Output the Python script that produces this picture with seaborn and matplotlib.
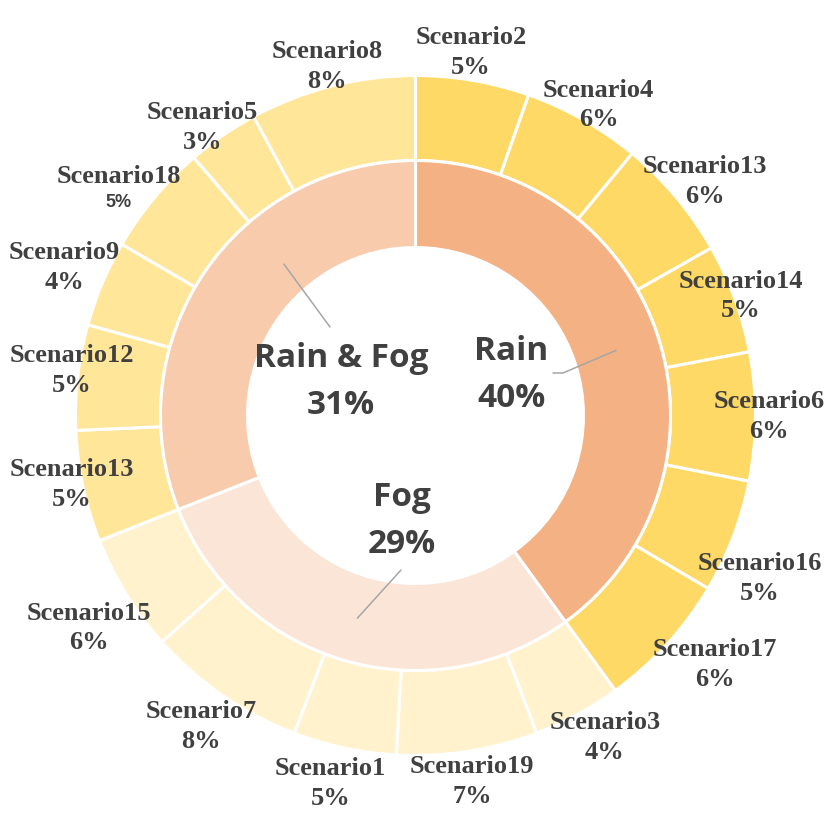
import numpy as np
import matplotlib
matplotlib.use("Agg")
import matplotlib.pyplot as plt
import seaborn as sns

# inner ring: weather group
groups = ["Rain", "Fog", "Rain & Fog"]
group_pct = [40, 29, 31]

# outer ring: scenarios, clockwise from 12 o'clock
scenarios = ["Scenario2", "Scenario4", "Scenario13", "Scenario14", "Scenario6", "Scenario16", "Scenario17",
             "Scenario3", "Scenario19", "Scenario1", "Scenario7", "Scenario15",
             "Scenario13", "Scenario12", "Scenario9", "Scenario18", "Scenario5", "Scenario8"]
scenario_share = [5.4, 5.6, 5.8, 5.2, 6.1, 5.4, 6.5,
                  4.2, 6.7, 4.9, 7.6, 5.6,
                  5.3, 5.0, 4.1, 5.3, 3.4, 7.9]
scenario_labels = ["5%", "6%", "6%", "5%", "6%", "5%", "6%",
                   "4%", "7%", "5%", "8%", "6%",
                   "5%", "5%", "4%", "5%", "3%", "8%"]
scenario_group = ["Rain"] * 7 + ["Fog"] * 5 + ["Rain & Fog"] * 6

inner_colors = {"Rain": "#F4B183", "Fog": "#FBE5D6", "Rain & Fog": "#F8CBAD"}
outer_colors = {"Rain": "#FFD966", "Fog": "#FFF2CC", "Rain & Fog": "#FFE699"}

# layout: label distance from centre (outer radius = 1) and angle nudge (deg)
label_r = [1.08, 1.06, 1.095, 1.02, 1.04, 1.12, 1.145,
           1.10, 1.09, 1.11, 1.11, 1.145,
           1.03, 1.02, 1.12, 1.12, 1.053, 1.06]
label_da = [-1, 1, 1, 0, 0, 4.4, -2.6,
            -2, 0, 1, 0, -1.4,
            0.7, 1, 0, -1, -2, 0]

S = 340.0
C = 415.5


def px(x, y):
    return ((x - C) / S, (C - y) / S)


def polar(angle_deg, r):
    a = np.deg2rad(angle_deg)
    return r * np.sin(a), r * np.cos(a)


sns.set_theme(style="white")
TXT = "#404040"

fig = plt.figure(figsize=(8.31, 8.31), dpi=100)
ax = fig.add_axes([0, 0, 1, 1])

wp = dict(edgecolor="white", linewidth=2.2)
ax.pie(scenario_share, radius=1.0, startangle=90, counterclock=False,
       colors=[outer_colors[g] for g in scenario_group],
       wedgeprops=dict(width=0.25, **wp))
ax.pie(group_pct, radius=0.75, startangle=90, counterclock=False,
       colors=[inner_colors[g] for g in groups],
       wedgeprops=dict(width=0.256, **wp))

# outer labels
total = sum(scenario_share)
cum = np.cumsum([0] + scenario_share)
serif = dict(ha="center", va="center", color=TXT, family="Liberation Serif",
             weight="bold", fontsize=19)
for i, (name, lab) in enumerate(zip(scenarios, scenario_labels)):
    mid = (cum[i] + scenario_share[i] / 2) / total * 360 + label_da[i]
    x, y = polar(mid, label_r[i])
    if name == "Scenario18":
        # this one came out with a smaller sans percentage in the original
        ax.text(x, y, name, **serif)
        ax.text(x, y - 0.074, lab, ha="center", va="center", color=TXT,
                family="Liberation Sans", weight="bold", fontsize=13)
    else:
        ax.text(x, y + 0.044, name, **serif)
        ax.text(x, y - 0.044, lab, **serif)

# inner labels with leader lines
inner_pos = [px(511, 375), px(402, 521), px(341, 382)]
leaders = [
    [px(553, 373), px(563, 373), polar(72, 0.62)],
    [px(401, 570), polar(196, 0.62)],
    [px(330, 327), polar(319, 0.59)],
]
for g, pct, (x, y), pts in zip(groups, group_pct, inner_pos, leaders):
    ax.text(x, y, f"{g}\n{pct}%", ha="center", va="center", color=TXT,
            family="Open Sans", weight="bold", fontsize=24, linespacing=1.55)
    xs, ys = zip(*pts)
    ax.plot(xs, ys, color="#A6A6A6", lw=1.1)

ax.set_xlim(-C / S, C / S)
ax.set_ylim(-C / S, C / S)
ax.set_aspect("equal")
ax.axis("off")

fig.savefig("out.png", dpi=100, facecolor="white")
